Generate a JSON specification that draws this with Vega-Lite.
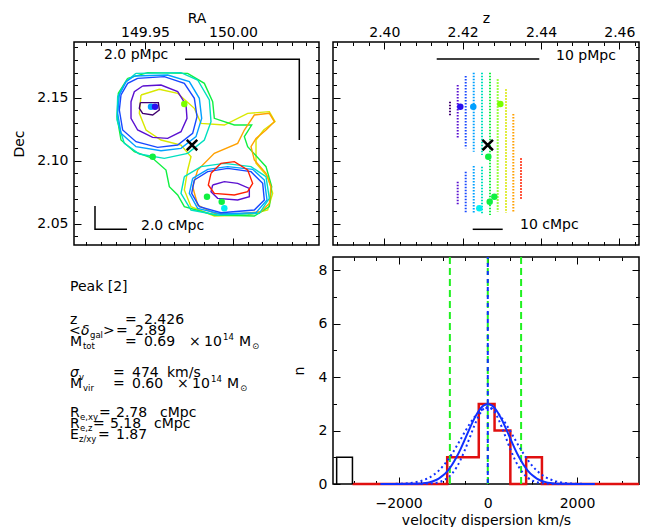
{
"$schema": "https://vega.github.io/schema/vega-lite/v6.json",
"background": "white",
"padding": {"left": 12, "top": 10, "right": 2, "bottom": 2},
"config": {
  "font": "DejaVu Sans",
  "view": {"stroke": "#000000", "strokeWidth": 1.5},
  "axis": {"domain": false, "grid": false, "tickColor": "#000000", "tickWidth": 1, "labelColor": "#000000", "titleColor": "#000000", "labelFontSize": 14, "titleFontSize": 14, "titleFontWeight": "normal", "labelFlush": false, "labelOverlap": false, "labelBound": false}
},
"datasets": {
  "contours": [
    {"c":"c13","s":"s8","i":0,"ra":149.94773,"dec":2.15214},
    {"c":"c13","s":"s8","i":1,"ra":149.95814,"dec":2.15664},
    {"c":"c13","s":"s8","i":2,"ra":149.96856,"dec":2.15347},
    {"c":"c13","s":"s8","i":3,"ra":149.97803,"dec":2.14156},
    {"c":"c13","s":"s8","i":4,"ra":149.98182,"dec":2.12966},
    {"c":"c13","s":"s8","i":5,"ra":149.99508,"dec":2.12833},
    {"c":"c13","s":"s8","i":6,"ra":150.00833,"dec":2.13759},
    {"c":"c13","s":"s8","i":7,"ra":150.02064,"dec":2.13892},
    {"c":"c13","s":"s8","i":8,"ra":150.02386,"dec":2.13098},
    {"c":"c13","s":"s8","i":9,"ra":150.01742,"dec":2.12437},
    {"c":"c13","s":"s8","i":10,"ra":150.01307,"dec":2.11643},
    {"c":"c13","s":"s8","i":11,"ra":150.01307,"dec":2.09791},
    {"c":"c13","s":"s8","i":12,"ra":150.0197,"dec":2.08733},
    {"c":"c13","s":"s8","i":13,"ra":150.02254,"dec":2.0741},
    {"c":"c13","s":"s8","i":14,"ra":150.0197,"dec":2.06087},
    {"c":"c13","s":"s8","i":15,"ra":150.00833,"dec":2.0569},
    {"c":"c13","s":"s8","i":16,"ra":149.98939,"dec":2.05611},
    {"c":"c13","s":"s8","i":17,"ra":149.97614,"dec":2.06352},
    {"c":"c13","s":"s8","i":18,"ra":149.97235,"dec":2.07675},
    {"c":"c13","s":"s8","i":19,"ra":149.97424,"dec":2.09262},
    {"c":"c13","s":"s8","i":20,"ra":149.97614,"dec":2.1032},
    {"c":"c13","s":"s8","i":21,"ra":149.97045,"dec":2.11246},
    {"c":"c13","s":"s8","i":22,"ra":149.95909,"dec":2.11643},
    {"c":"c13","s":"s8","i":23,"ra":149.95057,"dec":2.12437},
    {"c":"c13","s":"s8","i":24,"ra":149.94678,"dec":2.13759},
    {"c":"c13","s":"s8","i":25,"ra":149.94773,"dec":2.15214},
    {"c":"c12","s":"s6","i":0,"ra":149.94015,"dec":2.16537},
    {"c":"c12","s":"s6","i":1,"ra":149.95152,"dec":2.16987},
    {"c":"c12","s":"s6","i":2,"ra":149.97424,"dec":2.16934},
    {"c":"c12","s":"s6","i":3,"ra":149.98371,"dec":2.1614},
    {"c":"c12","s":"s6","i":4,"ra":149.98845,"dec":2.14685},
    {"c":"c12","s":"s6","i":5,"ra":149.98939,"dec":2.13362},
    {"c":"c12","s":"s6","i":6,"ra":150.00076,"dec":2.12833},
    {"c":"c12","s":"s6","i":7,"ra":150.01061,"dec":2.12833},
    {"c":"c12","s":"s6","i":8,"ra":150.00644,"dec":2.11907},
    {"c":"c12","s":"s6","i":9,"ra":150.00833,"dec":2.11114},
    {"c":"c12","s":"s6","i":10,"ra":150.01875,"dec":2.09526},
    {"c":"c12","s":"s6","i":11,"ra":150.02197,"dec":2.07939},
    {"c":"c12","s":"s6","i":12,"ra":150.02064,"dec":2.06352},
    {"c":"c12","s":"s6","i":13,"ra":150.01212,"dec":2.05611},
    {"c":"c12","s":"s6","i":14,"ra":149.98939,"dec":2.0569},
    {"c":"c12","s":"s6","i":15,"ra":149.97235,"dec":2.06352},
    {"c":"c12","s":"s6","i":16,"ra":149.96856,"dec":2.07278},
    {"c":"c12","s":"s6","i":17,"ra":149.96383,"dec":2.07939},
    {"c":"c12","s":"s6","i":18,"ra":149.96193,"dec":2.09262},
    {"c":"c12","s":"s6","i":19,"ra":149.95436,"dec":2.10188},
    {"c":"c12","s":"s6","i":20,"ra":149.94394,"dec":2.10716},
    {"c":"c12","s":"s6","i":21,"ra":149.93636,"dec":2.11643},
    {"c":"c12","s":"s6","i":22,"ra":149.93409,"dec":2.13495},
    {"c":"c12","s":"s6","i":23,"ra":149.93485,"dec":2.15347},
    {"c":"c12","s":"s6","i":24,"ra":149.94015,"dec":2.16537},
    {"c":"c11","s":"s9","i":0,"ra":149.97708,"dec":2.07939},
    {"c":"c11","s":"s9","i":1,"ra":149.97992,"dec":2.09262},
    {"c":"c11","s":"s9","i":2,"ra":149.98939,"dec":2.10584},
    {"c":"c11","s":"s9","i":3,"ra":150.00265,"dec":2.11378},
    {"c":"c11","s":"s9","i":4,"ra":150.00644,"dec":2.12437},
    {"c":"c11","s":"s9","i":5,"ra":150.01212,"dec":2.13627},
    {"c":"c11","s":"s9","i":6,"ra":150.02064,"dec":2.13759},
    {"c":"c11","s":"s9","i":7,"ra":150.02348,"dec":2.13098},
    {"c":"c11","s":"s9","i":8,"ra":150.01875,"dec":2.12437},
    {"c":"c11","s":"s9","i":9,"ra":150.01307,"dec":2.11775},
    {"c":"c11","s":"s9","i":10,"ra":150.01023,"dec":2.11114},
    {"c":"c11","s":"s9","i":11,"ra":150.01212,"dec":2.10055},
    {"c":"c11","s":"s9","i":12,"ra":150.01875,"dec":2.08997},
    {"c":"c11","s":"s9","i":13,"ra":150.02159,"dec":2.07939},
    {"c":"c11","s":"s9","i":14,"ra":150.02064,"dec":2.06617},
    {"c":"c11","s":"s9","i":15,"ra":150.01591,"dec":2.05955},
    {"c":"c11","s":"s9","i":16,"ra":150.00265,"dec":2.0577},
    {"c":"c11","s":"s9","i":17,"ra":149.98939,"dec":2.05823},
    {"c":"c11","s":"s9","i":18,"ra":149.97992,"dec":2.06484},
    {"c":"c11","s":"s9","i":19,"ra":149.97708,"dec":2.07939},
    {"c":"c05","s":"s5","i":0,"ra":149.94489,"dec":2.16934},
    {"c":"c05","s":"s5","i":1,"ra":149.97045,"dec":2.16987},
    {"c":"c05","s":"s5","i":2,"ra":149.97992,"dec":2.16405},
    {"c":"c05","s":"s5","i":3,"ra":149.98655,"dec":2.14817},
    {"c":"c05","s":"s5","i":4,"ra":149.9875,"dec":2.13098},
    {"c":"c05","s":"s5","i":5,"ra":149.98371,"dec":2.11643},
    {"c":"c05","s":"s5","i":6,"ra":149.97424,"dec":2.10584},
    {"c":"c05","s":"s5","i":7,"ra":149.96098,"dec":2.10188},
    {"c":"c05","s":"s5","i":8,"ra":149.94678,"dec":2.10531},
    {"c":"c05","s":"s5","i":9,"ra":149.93826,"dec":2.11378},
    {"c":"c05","s":"s5","i":10,"ra":149.93409,"dec":2.1323},
    {"c":"c05","s":"s5","i":11,"ra":149.93447,"dec":2.15082},
    {"c":"c05","s":"s5","i":12,"ra":149.9392,"dec":2.16272},
    {"c":"c05","s":"s5","i":13,"ra":149.94489,"dec":2.16934},
    {"c":"c10","s":"s5","i":0,"ra":149.97235,"dec":2.08733},
    {"c":"c10","s":"s5","i":1,"ra":149.98182,"dec":2.09526},
    {"c":"c10","s":"s5","i":2,"ra":149.99508,"dec":2.09791},
    {"c":"c10","s":"s5","i":3,"ra":150.01023,"dec":2.09526},
    {"c":"c10","s":"s5","i":4,"ra":150.01875,"dec":2.08733},
    {"c":"c10","s":"s5","i":5,"ra":150.02064,"dec":2.07013},
    {"c":"c10","s":"s5","i":6,"ra":150.01496,"dec":2.05823},
    {"c":"c10","s":"s5","i":7,"ra":149.99129,"dec":2.0569},
    {"c":"c10","s":"s5","i":8,"ra":149.97614,"dec":2.06087},
    {"c":"c10","s":"s5","i":9,"ra":149.97045,"dec":2.0741},
    {"c":"c10","s":"s5","i":10,"ra":149.97235,"dec":2.08733},
    {"c":"c04","s":"s4","i":0,"ra":149.94394,"dec":2.16722},
    {"c":"c04","s":"s4","i":1,"ra":149.96288,"dec":2.16802},
    {"c":"c04","s":"s4","i":2,"ra":149.97519,"dec":2.16272},
    {"c":"c04","s":"s4","i":3,"ra":149.98087,"dec":2.1495},
    {"c":"c04","s":"s4","i":4,"ra":149.9822,"dec":2.13362},
    {"c":"c04","s":"s4","i":5,"ra":149.97898,"dec":2.11907},
    {"c":"c04","s":"s4","i":6,"ra":149.97045,"dec":2.10981},
    {"c":"c04","s":"s4","i":7,"ra":149.95909,"dec":2.10796},
    {"c":"c04","s":"s4","i":8,"ra":149.94489,"dec":2.11114},
    {"c":"c04","s":"s4","i":9,"ra":149.93636,"dec":2.12172},
    {"c":"c04","s":"s4","i":10,"ra":149.93447,"dec":2.13759},
    {"c":"c04","s":"s4","i":11,"ra":149.93542,"dec":2.15214},
    {"c":"c04","s":"s4","i":12,"ra":149.9392,"dec":2.16272},
    {"c":"c04","s":"s4","i":13,"ra":149.94394,"dec":2.16722},
    {"c":"c09","s":"s4","i":0,"ra":149.97708,"dec":2.08601},
    {"c":"c09","s":"s4","i":1,"ra":149.98561,"dec":2.09315},
    {"c":"c09","s":"s4","i":2,"ra":149.99697,"dec":2.09526},
    {"c":"c09","s":"s4","i":3,"ra":150.01117,"dec":2.09315},
    {"c":"c09","s":"s4","i":4,"ra":150.0178,"dec":2.08468},
    {"c":"c09","s":"s4","i":5,"ra":150.01932,"dec":2.06881},
    {"c":"c09","s":"s4","i":6,"ra":150.01307,"dec":2.05876},
    {"c":"c09","s":"s4","i":7,"ra":149.99318,"dec":2.0577},
    {"c":"c09","s":"s4","i":8,"ra":149.97992,"dec":2.0622},
    {"c":"c09","s":"s4","i":9,"ra":149.97519,"dec":2.0741},
    {"c":"c09","s":"s4","i":10,"ra":149.97708,"dec":2.08601},
    {"c":"c03","s":"s3","i":0,"ra":149.94583,"dec":2.16537},
    {"c":"c03","s":"s3","i":1,"ra":149.96098,"dec":2.16669},
    {"c":"c03","s":"s3","i":2,"ra":149.97235,"dec":2.1614},
    {"c":"c03","s":"s3","i":3,"ra":149.97803,"dec":2.1495},
    {"c":"c03","s":"s3","i":4,"ra":149.97955,"dec":2.13495},
    {"c":"c03","s":"s3","i":5,"ra":149.97708,"dec":2.12172},
    {"c":"c03","s":"s3","i":6,"ra":149.96856,"dec":2.11246},
    {"c":"c03","s":"s3","i":7,"ra":149.9572,"dec":2.11061},
    {"c":"c03","s":"s3","i":8,"ra":149.94489,"dec":2.11511},
    {"c":"c03","s":"s3","i":9,"ra":149.93731,"dec":2.12437},
    {"c":"c03","s":"s3","i":10,"ra":149.93542,"dec":2.14024},
    {"c":"c03","s":"s3","i":11,"ra":149.93636,"dec":2.15214},
    {"c":"c03","s":"s3","i":12,"ra":149.94015,"dec":2.1614},
    {"c":"c03","s":"s3","i":13,"ra":149.94583,"dec":2.16537},
    {"c":"c08","s":"s3","i":0,"ra":149.97803,"dec":2.08468},
    {"c":"c08","s":"s3","i":1,"ra":149.98561,"dec":2.0913},
    {"c":"c08","s":"s3","i":2,"ra":149.99697,"dec":2.09394},
    {"c":"c08","s":"s3","i":3,"ra":150.01023,"dec":2.0913},
    {"c":"c08","s":"s3","i":4,"ra":150.01686,"dec":2.08204},
    {"c":"c08","s":"s3","i":5,"ra":150.0178,"dec":2.06881},
    {"c":"c08","s":"s3","i":6,"ra":150.01212,"dec":2.06087},
    {"c":"c08","s":"s3","i":7,"ra":149.99318,"dec":2.05876},
    {"c":"c08","s":"s3","i":8,"ra":149.98087,"dec":2.06352},
    {"c":"c08","s":"s3","i":9,"ra":149.97652,"dec":2.0741},
    {"c":"c08","s":"s3","i":10,"ra":149.97803,"dec":2.08468},
    {"c":"c02","s":"s2","i":0,"ra":149.94867,"dec":2.15929},
    {"c":"c02","s":"s2","i":1,"ra":149.95909,"dec":2.16008},
    {"c":"c02","s":"s2","i":2,"ra":149.96856,"dec":2.15479},
    {"c":"c02","s":"s2","i":3,"ra":149.9733,"dec":2.14421},
    {"c":"c02","s":"s2","i":4,"ra":149.97386,"dec":2.13362},
    {"c":"c02","s":"s2","i":5,"ra":149.97045,"dec":2.12304},
    {"c":"c02","s":"s2","i":6,"ra":149.96288,"dec":2.11775},
    {"c":"c02","s":"s2","i":7,"ra":149.95436,"dec":2.11855},
    {"c":"c02","s":"s2","i":8,"ra":149.94583,"dec":2.12437},
    {"c":"c02","s":"s2","i":9,"ra":149.94205,"dec":2.13362},
    {"c":"c02","s":"s2","i":10,"ra":149.94205,"dec":2.14685},
    {"c":"c02","s":"s2","i":11,"ra":149.94394,"dec":2.15479},
    {"c":"c02","s":"s2","i":12,"ra":149.94867,"dec":2.15929},
    {"c":"c06","s":"s2","i":0,"ra":149.98845,"dec":2.08071},
    {"c":"c06","s":"s2","i":1,"ra":149.99508,"dec":2.08336},
    {"c":"c06","s":"s2","i":2,"ra":150.00265,"dec":2.08204},
    {"c":"c06","s":"s2","i":3,"ra":150.00928,"dec":2.07807},
    {"c":"c06","s":"s2","i":4,"ra":150.00928,"dec":2.07146},
    {"c":"c06","s":"s2","i":5,"ra":150.00265,"dec":2.06881},
    {"c":"c06","s":"s2","i":6,"ra":149.99129,"dec":2.07013},
    {"c":"c06","s":"s2","i":7,"ra":149.9875,"dec":2.07542},
    {"c":"c06","s":"s2","i":8,"ra":149.98845,"dec":2.08071},
    {"c":"c07","s":"s10","i":0,"ra":149.9875,"dec":2.08997},
    {"c":"c07","s":"s10","i":1,"ra":149.99318,"dec":2.09791},
    {"c":"c07","s":"s10","i":2,"ra":150.00076,"dec":2.09923},
    {"c":"c07","s":"s10","i":3,"ra":150.00833,"dec":2.09262},
    {"c":"c07","s":"s10","i":4,"ra":150.01117,"dec":2.08204},
    {"c":"c07","s":"s10","i":5,"ra":150.00833,"dec":2.07542},
    {"c":"c07","s":"s10","i":6,"ra":150.00076,"dec":2.07278},
    {"c":"c07","s":"s10","i":7,"ra":149.98939,"dec":2.0741},
    {"c":"c07","s":"s10","i":8,"ra":149.98598,"dec":2.08071},
    {"c":"c07","s":"s10","i":9,"ra":149.9875,"dec":2.08997},
    {"c":"c01","s":"s1","i":0,"ra":149.94735,"dec":2.14606},
    {"c":"c01","s":"s1","i":1,"ra":149.95758,"dec":2.14606},
    {"c":"c01","s":"s1","i":2,"ra":149.95814,"dec":2.14024},
    {"c":"c01","s":"s1","i":3,"ra":149.95436,"dec":2.13627},
    {"c":"c01","s":"s1","i":4,"ra":149.94867,"dec":2.13759},
    {"c":"c01","s":"s1","i":5,"ra":149.94678,"dec":2.14156},
    {"c":"c01","s":"s1","i":6,"ra":149.94735,"dec":2.14606}
  ],
  "segs": [
    {"z":2.41677,"d1":2.14683,"d2":2.13548,"s":"s1"},
    {"z":2.41874,"d1":2.16008,"d2":2.11778,"s":"s2"},
    {"z":2.41874,"d1":2.08333,"d2":2.06484,"s":"s2"},
    {"z":2.42078,"d1":2.16722,"d2":2.10984,"s":"s3"},
    {"z":2.42078,"d1":2.09127,"d2":2.05873,"s":"s3"},
    {"z":2.42283,"d1":2.16984,"d2":2.10714,"s":"s4"},
    {"z":2.42283,"d1":2.09579,"d2":2.05873,"s":"s4"},
    {"z":2.42494,"d1":2.16984,"d2":2.10452,"s":"s5"},
    {"z":2.42494,"d1":2.09524,"d2":2.05825,"s":"s5"},
    {"z":2.42699,"d1":2.16984,"d2":2.0569,"s":"s6"},
    {"z":2.42895,"d1":2.1646,"d2":2.05952,"s":"s7"},
    {"z":2.43107,"d1":2.15667,"d2":2.05873,"s":"s8"},
    {"z":2.43294,"d1":2.13707,"d2":2.05873,"s":"s9"},
    {"z":2.4349,"d1":2.1019,"d2":2.06937,"s":"s10"}
  ],
  "gal": [
    {"ra":149.95341,"z":2.42272,"dec":2.14286,"s":"s4"},
    {"ra":149.95568,"z":2.4194,"dec":2.14286,"s":"gv"},
    {"ra":149.97233,"z":2.42962,"dec":2.145,"s":"s7"},
    {"ra":149.95438,"z":2.42655,"dec":2.10317,"s":"s6"},
    {"ra":149.98523,"z":2.42809,"dec":2.07143,"s":"s6"},
    {"ra":149.99358,"z":2.42691,"dec":2.06746,"s":"s6"},
    {"ra":149.99506,"z":2.42426,"dec":2.06222,"s":"gc"}
  ],
  "xm": [{"ra":149.97671,"z":2.4264,"dec":2.11246}],
  "bars_tl": [
    {"b":"p","i":0,"ra":149.97273,"dec":2.18048},
    {"b":"p","i":1,"ra":150.03767,"dec":2.18048},
    {"b":"p","i":2,"ra":150.03767,"dec":2.11643},
    {"b":"c","i":0,"ra":149.92159,"dec":2.06405},
    {"b":"c","i":1,"ra":149.92159,"dec":2.04556},
    {"b":"c","i":2,"ra":149.93977,"dec":2.04556}
  ],
  "bars_tr": [
    {"b":"p","i":0,"z":2.41338,"dec":2.18072},
    {"b":"p","i":1,"z":2.43957,"dec":2.18072},
    {"b":"c","i":0,"z":2.42257,"dec":2.04556},
    {"b":"c","i":1,"z":2.43023,"dec":2.04556}
  ],
  "lab_tl": [
    {"ra":149.92671,"dec":2.18389,"t":"2.0 pMpc"},
    {"ra":149.94773,"dec":2.04857,"t":"2.0 cMpc"}
  ],
  "lab_tr": [
    {"z":2.44384,"dec":2.18349,"t":"10 pMpc"},
    {"z":2.43465,"dec":2.04897,"t":"10 cMpc"}
  ],
  "hist": [
    {"i":0,"v":-3034,"n":0},{"i":1,"v":-910,"n":0},{"i":2,"v":-910,"n":1},{"i":3,"v":-202,"n":1},
    {"i":4,"v":-202,"n":3},{"i":5,"v":152,"n":3},{"i":6,"v":152,"n":2},{"i":7,"v":506,"n":2},
    {"i":8,"v":506,"n":0},{"i":9,"v":860,"n":0},{"i":10,"v":860,"n":1},{"i":11,"v":1214,"n":1},
    {"i":12,"v":1214,"n":0},{"i":13,"v":3390,"n":0}
  ],
  "outl": [
    {"i":0,"v":-3388,"n":0},{"i":1,"v":-3388,"n":1},{"i":2,"v":-3034,"n":1},{"i":3,"v":-3034,"n":0}
  ],
  "vlines": [
    {"v":-850,"k":"g"},{"v":0,"k":"g"},{"v":747,"k":"g"},{"v":0,"k":"b"}
  ],
  "curves": [
    {"k":"fit","v":-2400,"n":0},{"k":"fit","v":-2000,"n":0},{"k":"fit","v":-1700,"n":0.005},{"k":"fit","v":-1500,"n":0.02},
    {"k":"fit","v":-1400,"n":0.038},{"k":"fit","v":-1300,"n":0.07},{"k":"fit","v":-1200,"n":0.122},{"k":"fit","v":-1100,"n":0.203},
    {"k":"fit","v":-1000,"n":0.324},{"k":"fit","v":-900,"n":0.495},{"k":"fit","v":-800,"n":0.722},{"k":"fit","v":-700,"n":1.008},
    {"k":"fit","v":-600,"n":1.346},{"k":"fit","v":-500,"n":1.72},{"k":"fit","v":-400,"n":2.101},{"k":"fit","v":-300,"n":2.456},
    {"k":"fit","v":-200,"n":2.744},{"k":"fit","v":-100,"n":2.934},{"k":"fit","v":0,"n":3},
    {"k":"fit","v":100,"n":2.934},{"k":"fit","v":200,"n":2.744},{"k":"fit","v":300,"n":2.456},{"k":"fit","v":400,"n":2.101},
    {"k":"fit","v":500,"n":1.72},{"k":"fit","v":600,"n":1.346},{"k":"fit","v":700,"n":1.008},{"k":"fit","v":800,"n":0.722},
    {"k":"fit","v":900,"n":0.495},{"k":"fit","v":1000,"n":0.324},{"k":"fit","v":1100,"n":0.203},{"k":"fit","v":1200,"n":0.122},
    {"k":"fit","v":1300,"n":0.07},{"k":"fit","v":1400,"n":0.038},{"k":"fit","v":1500,"n":0.02},{"k":"fit","v":1700,"n":0.005},
    {"k":"fit","v":2000,"n":0},{"k":"fit","v":2400,"n":0},
    {"k":"hi","v":-2400,"n":0.001},{"k":"hi","v":-2200,"n":0.003},{"k":"hi","v":-2000,"n":0.009},{"k":"hi","v":-1800,"n":0.027},
    {"k":"hi","v":-1600,"n":0.072},{"k":"hi","v":-1500,"n":0.113},{"k":"hi","v":-1400,"n":0.171},{"k":"hi","v":-1300,"n":0.252},
    {"k":"hi","v":-1200,"n":0.36},{"k":"hi","v":-1100,"n":0.501},{"k":"hi","v":-1000,"n":0.678},{"k":"hi","v":-900,"n":0.89},
    {"k":"hi","v":-800,"n":1.137},{"k":"hi","v":-700,"n":1.41},{"k":"hi","v":-600,"n":1.699},{"k":"hi","v":-500,"n":1.99},
    {"k":"hi","v":-400,"n":2.265},{"k":"hi","v":-300,"n":2.504},{"k":"hi","v":-200,"n":2.691},{"k":"hi","v":-100,"n":2.809},
    {"k":"hi","v":0,"n":2.85},{"k":"hi","v":100,"n":2.809},{"k":"hi","v":200,"n":2.691},{"k":"hi","v":300,"n":2.504},
    {"k":"hi","v":400,"n":2.265},{"k":"hi","v":500,"n":1.99},{"k":"hi","v":600,"n":1.699},{"k":"hi","v":700,"n":1.41},
    {"k":"hi","v":800,"n":1.137},{"k":"hi","v":900,"n":0.89},{"k":"hi","v":1000,"n":0.678},{"k":"hi","v":1100,"n":0.501},
    {"k":"hi","v":1200,"n":0.36},{"k":"hi","v":1300,"n":0.252},{"k":"hi","v":1400,"n":0.171},{"k":"hi","v":1500,"n":0.113},
    {"k":"hi","v":1600,"n":0.072},{"k":"hi","v":1800,"n":0.027},{"k":"hi","v":2000,"n":0.009},{"k":"hi","v":2200,"n":0.003},
    {"k":"hi","v":2400,"n":0.001},
    {"k":"lo","v":-2400,"n":0},{"k":"lo","v":-2000,"n":0},{"k":"lo","v":-1600,"n":0.001},{"k":"lo","v":-1400,"n":0.006},
    {"k":"lo","v":-1300,"n":0.015},{"k":"lo","v":-1200,"n":0.032},{"k":"lo","v":-1100,"n":0.066},{"k":"lo","v":-1000,"n":0.127},
    {"k":"lo","v":-900,"n":0.231},{"k":"lo","v":-800,"n":0.392},{"k":"lo","v":-700,"n":0.627},{"k":"lo","v":-600,"n":0.942},
    {"k":"lo","v":-500,"n":1.328},{"k":"lo","v":-400,"n":1.759},{"k":"lo","v":-300,"n":2.189},{"k":"lo","v":-200,"n":2.559},
    {"k":"lo","v":-100,"n":2.811},{"k":"lo","v":0,"n":2.9},{"k":"lo","v":100,"n":2.811},{"k":"lo","v":200,"n":2.559},
    {"k":"lo","v":300,"n":2.189},{"k":"lo","v":400,"n":1.759},{"k":"lo","v":500,"n":1.328},{"k":"lo","v":600,"n":0.942},
    {"k":"lo","v":700,"n":0.627},{"k":"lo","v":800,"n":0.392},{"k":"lo","v":900,"n":0.231},{"k":"lo","v":1000,"n":0.127},
    {"k":"lo","v":1100,"n":0.066},{"k":"lo","v":1200,"n":0.032},{"k":"lo","v":1300,"n":0.015},{"k":"lo","v":1400,"n":0.006},
    {"k":"lo","v":1600,"n":0.001},{"k":"lo","v":2000,"n":0},{"k":"lo","v":2400,"n":0}
  ],
  "info": [
    {"x":-4,"y":30,"t":"Peak [2]","r":"m"},
    {"x":-4,"y":63,"t":"z","r":"m"},
    {"x":51,"y":63,"t":"=","r":"m"},
    {"x":70,"y":63,"t":"2.426","r":"m"},
    {"x":-5,"y":74,"t":"<","r":"m"},
    {"x":7,"y":74,"t":"δ","r":"i"},
    {"x":16,"y":74,"t":"gal","r":"b"},
    {"x":29,"y":74,"t":">","r":"m"},
    {"x":42,"y":74,"t":"=","r":"m"},
    {"x":61,"y":74,"t":"2.89","r":"m"},
    {"x":-4,"y":85,"t":"M","r":"m"},
    {"x":9,"y":85,"t":"tot","r":"b"},
    {"x":51,"y":85,"t":"=","r":"m"},
    {"x":70,"y":85,"t":"0.69","r":"m"},
    {"x":115,"y":85,"t":"×","r":"m"},
    {"x":130,"y":85,"t":"10","r":"m"},
    {"x":149,"y":85,"t":"14","r":"p"},
    {"x":165,"y":85,"t":"M","r":"m"},
    {"x":178,"y":85,"t":"⊙","r":"b"},
    {"x":-4,"y":115.5,"t":"σ","r":"i"},
    {"x":5,"y":115.5,"t":"v","r":"b"},
    {"x":39,"y":115.5,"t":"=","r":"m"},
    {"x":58,"y":115.5,"t":"474","r":"m"},
    {"x":93,"y":115.5,"t":"km/s","r":"m"},
    {"x":-4,"y":127,"t":"M","r":"m"},
    {"x":9,"y":127,"t":"vir","r":"b"},
    {"x":39,"y":127,"t":"=","r":"m"},
    {"x":58,"y":127,"t":"0.60","r":"m"},
    {"x":103,"y":127,"t":"×","r":"m"},
    {"x":118,"y":127,"t":"10","r":"m"},
    {"x":137,"y":127,"t":"14","r":"p"},
    {"x":153,"y":127,"t":"M","r":"m"},
    {"x":166,"y":127,"t":"⊙","r":"b"},
    {"x":-4,"y":155.5,"t":"R","r":"m"},
    {"x":6,"y":155.5,"t":"e,xy","r":"b"},
    {"x":25,"y":155.5,"t":"=","r":"m"},
    {"x":42,"y":155.5,"t":"2.78","r":"m"},
    {"x":86,"y":155.5,"t":"cMpc","r":"m"},
    {"x":-4,"y":166.5,"t":"R","r":"m"},
    {"x":6,"y":166.5,"t":"e,z","r":"b"},
    {"x":19,"y":166.5,"t":"=","r":"m"},
    {"x":36,"y":166.5,"t":"5.18","r":"m"},
    {"x":80,"y":166.5,"t":"cMpc","r":"m"},
    {"x":-4,"y":177.5,"t":"E","r":"m"},
    {"x":5,"y":177.5,"t":"z/xy","r":"b"},
    {"x":24,"y":177.5,"t":"=","r":"m"},
    {"x":42,"y":177.5,"t":"1.87","r":"m"}
  ]
},
"columns": 2,
"align": "each",
"bounds": "flush",
"spacing": {"row": 12, "column": 14},
"resolve": {"scale": {"x": "independent", "y": "independent"}},
"concat": [
  {
    "width": 245, "height": 203,
    "resolve": {"axis": {"x": "independent", "y": "independent"}},
    "layer": [
      {"data": {"name": "contours"},
       "mark": {"type": "line", "strokeWidth": 1.4},
       "encoding": {
         "x": {"field": "ra", "type": "quantitative", "scale": {"domain": [149.90966, 150.04886], "nice": false, "zero": false},
               "axis": {"orient": "top", "values": [149.95, 150.0], "format": ".2f", "tickSize": -7, "labelPadding": 10, "title": "RA", "titlePadding": 0}},
         "y": {"field": "dec", "type": "quantitative", "scale": {"domain": [2.0331, 2.19421], "nice": false, "zero": false},
               "axis": {"orient": "left", "values": [2.05, 2.1, 2.15], "format": ".2f", "tickSize": -7, "labelPadding": 13, "title": "Dec", "titlePadding": 10}},
         "color": {"field": "s", "type": "nominal", "legend": null,
                   "scale": {"domain": ["s1","s2","s3","s4","s5","s6","s7","s8","s9","s10","gv","gc"], "range": ["#400070","#5a10d0","#1848ff","#00a0ff","#00e0c0","#10f040","#78ff00","#d8e800","#ffa000","#ff2000","#2a10f0","#00f0f0"]}},
         "detail": {"field": "c", "type": "nominal"},
         "order": {"field": "i", "type": "quantitative"}
       }},
      {"data": {"name": "gal"},
       "mark": {"type": "point", "filled": true, "size": 42, "opacity": 1},
       "encoding": {
         "x": {"field": "ra", "type": "quantitative", "scale": {"domain": [149.90966, 150.04886], "nice": false, "zero": false},
               "axis": {"orient": "top", "values": [149.91667,149.925,149.93333,149.94167,149.95833,149.96667,149.975,149.98333,149.99167,150.00833,150.01667,150.025,150.03333,150.04167], "tickSize": -3.5, "labels": false, "title": null}},
         "y": {"field": "dec", "type": "quantitative", "scale": {"domain": [2.0331, 2.19421], "nice": false, "zero": false},
               "axis": {"orient": "left", "values": [2.04,2.06,2.07,2.08,2.09,2.11,2.12,2.13,2.14,2.16,2.17,2.18,2.19], "tickSize": -3.5, "labels": false, "title": null}},
         "color": {"field": "s", "type": "nominal", "legend": null,
                   "scale": {"domain": ["s1","s2","s3","s4","s5","s6","s7","s8","s9","s10","gv","gc"], "range": ["#400070","#5a10d0","#1848ff","#00a0ff","#00e0c0","#10f040","#78ff00","#d8e800","#ffa000","#ff2000","#2a10f0","#00f0f0"]}}
       }},
      {"data": {"name": "bars_tl"},
       "mark": {"type": "line", "color": "#000000", "strokeWidth": 1.5},
       "encoding": {
         "x": {"field": "ra", "type": "quantitative", "scale": {"domain": [149.90966, 150.04886], "nice": false, "zero": false},
               "axis": {"orient": "bottom", "values": [149.95, 150.0], "tickSize": -7, "labels": false, "title": null}},
         "y": {"field": "dec", "type": "quantitative", "scale": {"domain": [2.0331, 2.19421], "nice": false, "zero": false},
               "axis": {"orient": "right", "values": [2.05, 2.1, 2.15], "tickSize": -7, "labels": false, "title": null}},
         "detail": {"field": "b", "type": "nominal"},
         "order": {"field": "i", "type": "quantitative"}
       }},
      {"data": {"name": "xm"},
       "mark": {"type": "point", "shape": "M-1,-1L1,1M-1,1L1,-1", "filled": false, "color": "#000000", "strokeWidth": 2.5, "size": 110, "opacity": 1},
       "encoding": {
         "x": {"field": "ra", "type": "quantitative", "scale": {"domain": [149.90966, 150.04886], "nice": false, "zero": false},
               "axis": {"orient": "bottom", "values": [149.91667,149.925,149.93333,149.94167,149.95833,149.96667,149.975,149.98333,149.99167,150.00833,150.01667,150.025,150.03333,150.04167], "tickSize": -3.5, "labels": false, "title": null}},
         "y": {"field": "dec", "type": "quantitative", "scale": {"domain": [2.0331, 2.19421], "nice": false, "zero": false},
               "axis": {"orient": "right", "values": [2.04,2.06,2.07,2.08,2.09,2.11,2.12,2.13,2.14,2.16,2.17,2.18,2.19], "tickSize": -3.5, "labels": false, "title": null}}
       }},
      {"data": {"name": "lab_tl"},
       "mark": {"type": "text", "align": "left", "baseline": "middle", "fontSize": 14, "color": "#000000"},
       "encoding": {
         "x": {"field": "ra", "type": "quantitative", "scale": {"domain": [149.90966, 150.04886], "nice": false, "zero": false}, "axis": null},
         "y": {"field": "dec", "type": "quantitative", "scale": {"domain": [2.0331, 2.19421], "nice": false, "zero": false}, "axis": null},
         "text": {"field": "t"}
       }}
    ]
  },
  {
    "width": 306, "height": 203,
    "resolve": {"axis": {"x": "independent", "y": "independent"}},
    "layer": [
      {"data": {"name": "segs"},
       "mark": {"type": "rule", "strokeWidth": 2, "strokeDash": [1.5, 1.5]},
       "encoding": {
         "x": {"field": "z", "type": "quantitative", "scale": {"domain": [2.3869, 2.46503], "nice": false, "zero": false},
               "axis": {"orient": "top", "values": [2.4, 2.42, 2.44, 2.46], "format": ".2f", "tickSize": -7, "labelPadding": 10, "title": "z", "titlePadding": 0}},
         "y": {"field": "d1", "type": "quantitative", "scale": {"domain": [2.0331, 2.19421], "nice": false, "zero": false},
               "axis": {"orient": "left", "values": [2.05, 2.1, 2.15], "tickSize": -7, "labels": false, "title": null}},
         "y2": {"field": "d2"},
         "color": {"field": "s", "type": "nominal", "legend": null,
                   "scale": {"domain": ["s1","s2","s3","s4","s5","s6","s7","s8","s9","s10","gv","gc"], "range": ["#400070","#5a10d0","#1848ff","#00a0ff","#00e0c0","#10f040","#78ff00","#d8e800","#ffa000","#ff2000","#2a10f0","#00f0f0"]}}
       }},
      {"data": {"name": "gal"},
       "mark": {"type": "point", "filled": true, "size": 42, "opacity": 1},
       "encoding": {
         "x": {"field": "z", "type": "quantitative", "scale": {"domain": [2.3869, 2.46503], "nice": false, "zero": false},
               "axis": {"orient": "top", "values": [2.388,2.392,2.396,2.404,2.408,2.412,2.416,2.424,2.428,2.432,2.436,2.444,2.448,2.452,2.456,2.464], "tickSize": -3.5, "labels": false, "title": null}},
         "y": {"field": "dec", "type": "quantitative", "scale": {"domain": [2.0331, 2.19421], "nice": false, "zero": false},
               "axis": {"orient": "left", "values": [2.04,2.06,2.07,2.08,2.09,2.11,2.12,2.13,2.14,2.16,2.17,2.18,2.19], "tickSize": -3.5, "labels": false, "title": null}},
         "color": {"field": "s", "type": "nominal", "legend": null,
                   "scale": {"domain": ["s1","s2","s3","s4","s5","s6","s7","s8","s9","s10","gv","gc"], "range": ["#400070","#5a10d0","#1848ff","#00a0ff","#00e0c0","#10f040","#78ff00","#d8e800","#ffa000","#ff2000","#2a10f0","#00f0f0"]}}
       }},
      {"data": {"name": "bars_tr"},
       "mark": {"type": "line", "color": "#000000", "strokeWidth": 1.5},
       "encoding": {
         "x": {"field": "z", "type": "quantitative", "scale": {"domain": [2.3869, 2.46503], "nice": false, "zero": false},
               "axis": {"orient": "bottom", "values": [2.4, 2.42, 2.44, 2.46], "tickSize": -7, "labels": false, "title": null}},
         "y": {"field": "dec", "type": "quantitative", "scale": {"domain": [2.0331, 2.19421], "nice": false, "zero": false},
               "axis": {"orient": "right", "values": [2.05, 2.1, 2.15], "tickSize": -7, "labels": false, "title": null}},
         "detail": {"field": "b", "type": "nominal"},
         "order": {"field": "i", "type": "quantitative"}
       }},
      {"data": {"name": "xm"},
       "mark": {"type": "point", "shape": "M-1,-1L1,1M-1,1L1,-1", "filled": false, "color": "#000000", "strokeWidth": 2.5, "size": 110, "opacity": 1},
       "encoding": {
         "x": {"field": "z", "type": "quantitative", "scale": {"domain": [2.3869, 2.46503], "nice": false, "zero": false},
               "axis": {"orient": "bottom", "values": [2.388,2.392,2.396,2.404,2.408,2.412,2.416,2.424,2.428,2.432,2.436,2.444,2.448,2.452,2.456,2.464], "tickSize": -3.5, "labels": false, "title": null}},
         "y": {"field": "dec", "type": "quantitative", "scale": {"domain": [2.0331, 2.19421], "nice": false, "zero": false},
               "axis": {"orient": "right", "values": [2.04,2.06,2.07,2.08,2.09,2.11,2.12,2.13,2.14,2.16,2.17,2.18,2.19], "tickSize": -3.5, "labels": false, "title": null}}
       }},
      {"data": {"name": "lab_tr"},
       "mark": {"type": "text", "align": "left", "baseline": "middle", "fontSize": 14, "color": "#000000"},
       "encoding": {
         "x": {"field": "z", "type": "quantitative", "scale": {"domain": [2.3869, 2.46503], "nice": false, "zero": false}, "axis": null},
         "y": {"field": "dec", "type": "quantitative", "scale": {"domain": [2.0331, 2.19421], "nice": false, "zero": false}, "axis": null},
         "text": {"field": "t"}
       }}
    ]
  },
  {
    "width": 245, "height": 227,
    "view": {"stroke": null},
    "data": {"name": "info"},
    "encoding": {
      "x": {"field": "x", "type": "quantitative", "scale": {"domain": [0, 245], "nice": false, "zero": false}, "axis": null},
      "y": {"field": "y", "type": "quantitative", "scale": {"domain": [0, 227], "nice": false, "zero": false, "reverse": true}, "axis": null},
      "text": {"field": "t"}
    },
    "layer": [
      {"transform": [{"filter": "datum.r === 'm'"}], "mark": {"type": "text", "align": "left", "baseline": "middle", "fontSize": 14, "color": "#000000"}},
      {"transform": [{"filter": "datum.r === 'i'"}], "mark": {"type": "text", "align": "left", "baseline": "middle", "fontSize": 14, "fontStyle": "italic", "color": "#000000"}},
      {"transform": [{"filter": "datum.r === 'b'"}], "mark": {"type": "text", "align": "left", "baseline": "middle", "fontSize": 8.5, "dy": 4, "color": "#000000"}},
      {"transform": [{"filter": "datum.r === 'p'"}], "mark": {"type": "text", "align": "left", "baseline": "middle", "fontSize": 8.5, "dy": -5, "color": "#000000"}}
    ]
  },
  {
    "width": 306, "height": 227,
    "resolve": {"axis": {"x": "independent", "y": "independent"}},
    "layer": [
      {"data": {"name": "hist"},
       "mark": {"type": "line", "color": "#e01010", "strokeWidth": 2.5},
       "encoding": {
         "x": {"field": "v", "type": "quantitative", "scale": {"domain": [-3470, 3390], "nice": false, "zero": false},
               "axis": {"orient": "bottom", "values": [-2000, 0, 2000], "format": "d", "tickSize": -7, "labelPadding": 19, "title": "velocity dispersion km/s", "titlePadding": 3}},
         "y": {"field": "n", "type": "quantitative", "scale": {"domain": [0, 8.5], "nice": false, "zero": false},
               "axis": {"orient": "left", "values": [0, 2, 4, 6, 8], "format": "d", "tickSize": -7, "labelPadding": 13, "title": "n", "titlePadding": 12}},
         "order": {"field": "i", "type": "quantitative"}
       }},
      {"data": {"name": "outl"},
       "mark": {"type": "line", "color": "#000000", "strokeWidth": 1.5},
       "encoding": {
         "x": {"field": "v", "type": "quantitative", "scale": {"domain": [-3470, 3390], "nice": false, "zero": false},
               "axis": {"orient": "bottom", "values": [-3000, -2500, -1500, -1000, -500, 500, 1000, 1500, 2500, 3000], "tickSize": -3.5, "labels": false, "title": null}},
         "y": {"field": "n", "type": "quantitative", "scale": {"domain": [0, 8.5], "nice": false, "zero": false},
               "axis": {"orient": "left", "values": [1, 3, 5, 7], "tickSize": -3.5, "labels": false, "title": null}},
         "order": {"field": "i", "type": "quantitative"}
       }},
      {"data": {"name": "vlines"},
       "transform": [{"filter": "datum.k === 'g'"}],
       "mark": {"type": "rule", "color": "#20f020", "strokeWidth": 2, "strokeDash": [7, 4]},
       "encoding": {
         "x": {"field": "v", "type": "quantitative", "scale": {"domain": [-3470, 3390], "nice": false, "zero": false},
               "axis": {"orient": "top", "values": [-2000, 0, 2000], "tickSize": -7, "labels": false, "title": null}}
       }},
      {"data": {"name": "curves"},
       "transform": [{"filter": "datum.k !== 'fit'"}],
       "mark": {"type": "line", "color": "#1030ff", "strokeWidth": 2, "strokeDash": [2, 3], "interpolate": "monotone"},
       "encoding": {
         "x": {"field": "v", "type": "quantitative", "scale": {"domain": [-3470, 3390], "nice": false, "zero": false},
               "axis": {"orient": "top", "values": [-3000, -2500, -1500, -1000, -500, 500, 1000, 1500, 2500, 3000], "tickSize": -3.5, "labels": false, "title": null}},
         "y": {"field": "n", "type": "quantitative", "scale": {"domain": [0, 8.5], "nice": false, "zero": false},
               "axis": {"orient": "right", "values": [0, 2, 4, 6, 8], "tickSize": -7, "labels": false, "title": null}},
         "detail": {"field": "k", "type": "nominal"}
       }},
      {"data": {"name": "curves"},
       "transform": [{"filter": "datum.k === 'fit'"}],
       "mark": {"type": "line", "color": "#1030ff", "strokeWidth": 2, "interpolate": "monotone"},
       "encoding": {
         "x": {"field": "v", "type": "quantitative", "scale": {"domain": [-3470, 3390], "nice": false, "zero": false}, "axis": null},
         "y": {"field": "n", "type": "quantitative", "scale": {"domain": [0, 8.5], "nice": false, "zero": false},
               "axis": {"orient": "right", "values": [1, 3, 5, 7], "tickSize": -3.5, "labels": false, "title": null}}
       }},
      {"data": {"name": "vlines"},
       "transform": [{"filter": "datum.k === 'b'"}],
       "mark": {"type": "rule", "color": "#1030ff", "strokeWidth": 2, "strokeDash": [4, 4], "strokeDashOffset": 2},
       "encoding": {
         "x": {"field": "v", "type": "quantitative", "scale": {"domain": [-3470, 3390], "nice": false, "zero": false}, "axis": null}
       }}
    ]
  }
]
}
